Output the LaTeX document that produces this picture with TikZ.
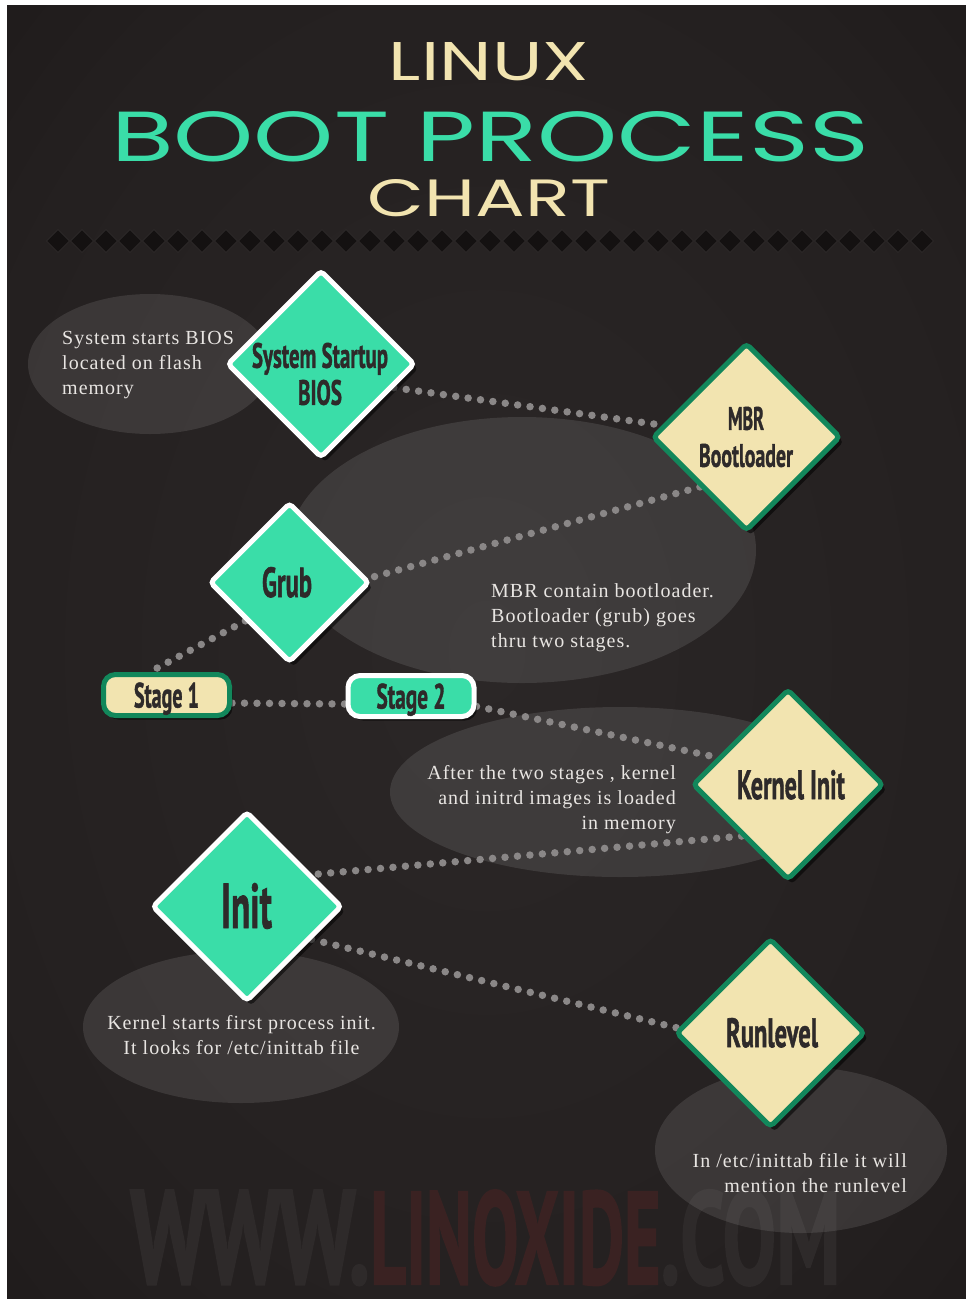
\documentclass[tikz,border=0pt]{standalone}
\usepackage{fontspec}
\usepackage{graphicx}
\setmainfont{Liberation Serif}
\newfontfamily\notefont{Liberation Serif}[LetterSpace=5]
\newfontfamily\titlefont{Poppins}
\newfontfamily\labelfont{PT Sans}[BoldFeatures={FakeBold=1.5}]
\usetikzlibrary{shapes.geometric,shadows}

\definecolor{bgcore}{HTML}{2B2727}
\definecolor{bgmid}{HTML}{242020}
\definecolor{bgdark}{HTML}{171313}
\definecolor{mint}{HTML}{3ADDA8}
\definecolor{cream}{HTML}{F2E4B0}
\definecolor{pine}{HTML}{12875B}
\definecolor{ink}{HTML}{2E2A2A}
\definecolor{dotgray}{HTML}{8A8787}
\definecolor{note}{HTML}{E8E5E2}
\definecolor{markgray}{HTML}{2E2A2A}
\definecolor{markred}{HTML}{3A2222}
\definecolor{ornfill}{HTML}{141111}
\definecolor{ornedge}{HTML}{2C2828}

\pgfdeclareradialshading{vignette}{\pgfpoint{0bp}{0bp}}{%
  color(0bp)=(bgcore); color(28bp)=(bgmid); color(50bp)=(bgdark); color(72bp)=(bgdark)}

\pgfdeclarelayer{back}
\pgfdeclarelayer{links}
\pgfsetlayers{back,links,main}

% condensed bold label squeezed to a given width and cap height
\newcommand\dialabel[3]{\resizebox{#1pt}{#2pt}{\labelfont\bfseries #3}}
\newcommand\headword[3]{\resizebox{#1pt}{#2pt}{\titlefont #3}}
\newcommand\topstrut{\rule{0pt}{15pt}}

\begin{document}
\begin{tikzpicture}[x=1pt,y=1pt,
  mintdia/.style={diamond, aspect=1, inner sep=0pt, minimum size=#1,
    fill=mint, draw=white, line width=5pt, rounded corners=4pt,
    drop shadow={shadow xshift=4pt, shadow yshift=-5pt, opacity=0.55, fill=black}},
  creamdia/.style={mintdia=#1, fill=cream, draw=pine},
  stagebox/.style={rectangle, rounded corners=12pt, minimum width=126pt,
    minimum height=41pt, line width=5pt, inner sep=0pt, text depth=0pt, text=ink,
    drop shadow={shadow xshift=3pt, shadow yshift=-4pt, opacity=0.55, fill=black}},
  dialbl/.style={inner sep=0pt, text=ink},
  twoline/.style={dialbl, align=center, font=\fontsize{10pt}{37pt}\selectfont},
  note/.style={inner sep=0pt, text=note, font=\notefont\fontsize{20pt}{25pt}\selectfont},
  dots/.style={draw=dotgray, line width=7.5pt, line cap=round, dash pattern=on 0pt off 12.5pt},
  bubble/.style={fill=white, opacity=0.1},
  orn/.style={fill=ornfill, draw=ornedge, line width=1pt}
]
\useasboundingbox (0,0) rectangle (966,-1299);

\begin{pgfonlayer}{back}
  \fill[white] (0,0) rectangle (966,-1299);
  \shade[shading=vignette] (7,-5) rectangle (966,-1299);
  % site mark
  \node[anchor=base west, inner sep=0pt] (site) at (130,-1284)
    {\color{markgray}\resizebox{240pt}{94pt}{\labelfont\bfseries WWW.}%
     \color{markred}\resizebox{290pt}{94pt}{\labelfont\bfseries LINOXIDE}%
     \color{markgray}\resizebox{180pt}{94pt}{\labelfont\bfseries .COM}};
  % ornament row under the heading
  \foreach \i in {0,...,36}
    \draw[orn] ({58+24*\i},-229.5) -- ++(11.5,-11.5) -- ++(-11.5,-11.5) -- ++(-11.5,11.5) -- cycle;
  % soft bubbles behind the notes
  \fill[bubble] (150,-364) ellipse [x radius=122pt, y radius=70pt];
  \fill[bubble] (522,-550) ellipse [x radius=234pt, y radius=133pt];
  \fill[bubble] (620,-792) ellipse [x radius=230pt, y radius=85pt];
  \fill[bubble] (241,-1027) ellipse [x radius=158pt, y radius=76pt];
  \fill[bubble] (801,-1150) ellipse [x radius=146pt, y radius=83pt];
\end{pgfonlayer}

% heading
\node[inner sep=0pt, text=cream] (title-linux) at (489,-61.5) {\headword{200}{38}{LINUX}};
\node[inner sep=0pt, text=mint] (title-boot) at (490,-137) {\headword{758}{50}{BOOT PROCESS}};
\node[inner sep=0pt, text=cream] (title-chart) at (489,-198.5) {\headword{242}{37}{CHART}};

% stages
\node[mintdia=188pt] (bios) at (321,-364) {};
\node[creamdia=188pt] (mbr) at (746.5,-437) {};
\node[mintdia=160pt] (grub) at (289.5,-582.5) {};
\node[creamdia=191pt] (kernel) at (788,-784.5) {};
\node[mintdia=190pt] (init) at (247,-906.5) {};
\node[creamdia=189pt] (runlevel) at (770.5,-1033) {};
\node[stagebox, fill=cream, draw=pine] (stage1) at (166.5,-695) {\dialabel{65}{25}{Stage 1}};
\node[stagebox, fill=mint, draw=white] (stage2) at (411,-696) {\dialabel{69}{25}{Stage 2}};

% stage captions
\node[twoline] (bios-label) at (320,-374) {\dialabel{136}{25}{System Startup}\\\dialabel{44}{25}{BIOS}};
\node[twoline] (mbr-label) at (746,-437) {\dialabel{36}{23}{MBR}\\\dialabel{94}{23}{Bootloader}};
\node[dialbl, anchor=base] (grub-label) at (287,-597) {\dialabel{50}{30}{Grub}};
\node[dialbl, anchor=base] (kernel-label) at (791,-799) {\dialabel{108}{29}{Kernel Init}};
\node[dialbl, anchor=base] (init-label) at (246.5,-928) {\dialabel{51}{45}{Init}};
\node[dialbl, anchor=base] (runlevel-label) at (772,-1047) {\dialabel{92}{29}{Runlevel}};

% notes
\node[note, anchor=north west, align=left] (bios-note) at (62,-329)
  {\topstrut System starts BIOS\\located on flash\\memory};
\node[note, anchor=north west, align=left] (mbr-note) at (491,-582)
  {\topstrut MBR contain bootloader.\\Bootloader (grub) goes\\thru two stages.};
\node[note, anchor=north east, align=right] (kernel-note) at (676,-764)
  {\topstrut After the two stages , kernel\\and initrd images is loaded\\in memory};
\node[note, anchor=north, align=center] (init-note) at (241.5,-1014)
  {\topstrut Kernel starts first process init.\\It looks for /etc/inittab file};
\node[note, anchor=north east, align=right] (runlevel-note) at (907,-1152)
  {\topstrut In /etc/inittab file it will\\mention the runlevel};

% dotted links
\begin{pgfonlayer}{links}
  \draw[dots] (bios.-18) -- (mbr.172);
  \draw[dots] (mbr.-133) -- (grub.3);
  \draw[dots] (grub.-139) -- (stage1.126);
  \draw[dots] (stage1.-7) -- (stage2.187);
  \draw[dots] (stage2.-9) -- (kernel.159);
  \draw[dots] (kernel.-132) -- (init.26);
  \draw[dots] (init.-27) -- (runlevel.177);
\end{pgfonlayer}
\end{tikzpicture}
\end{document}
